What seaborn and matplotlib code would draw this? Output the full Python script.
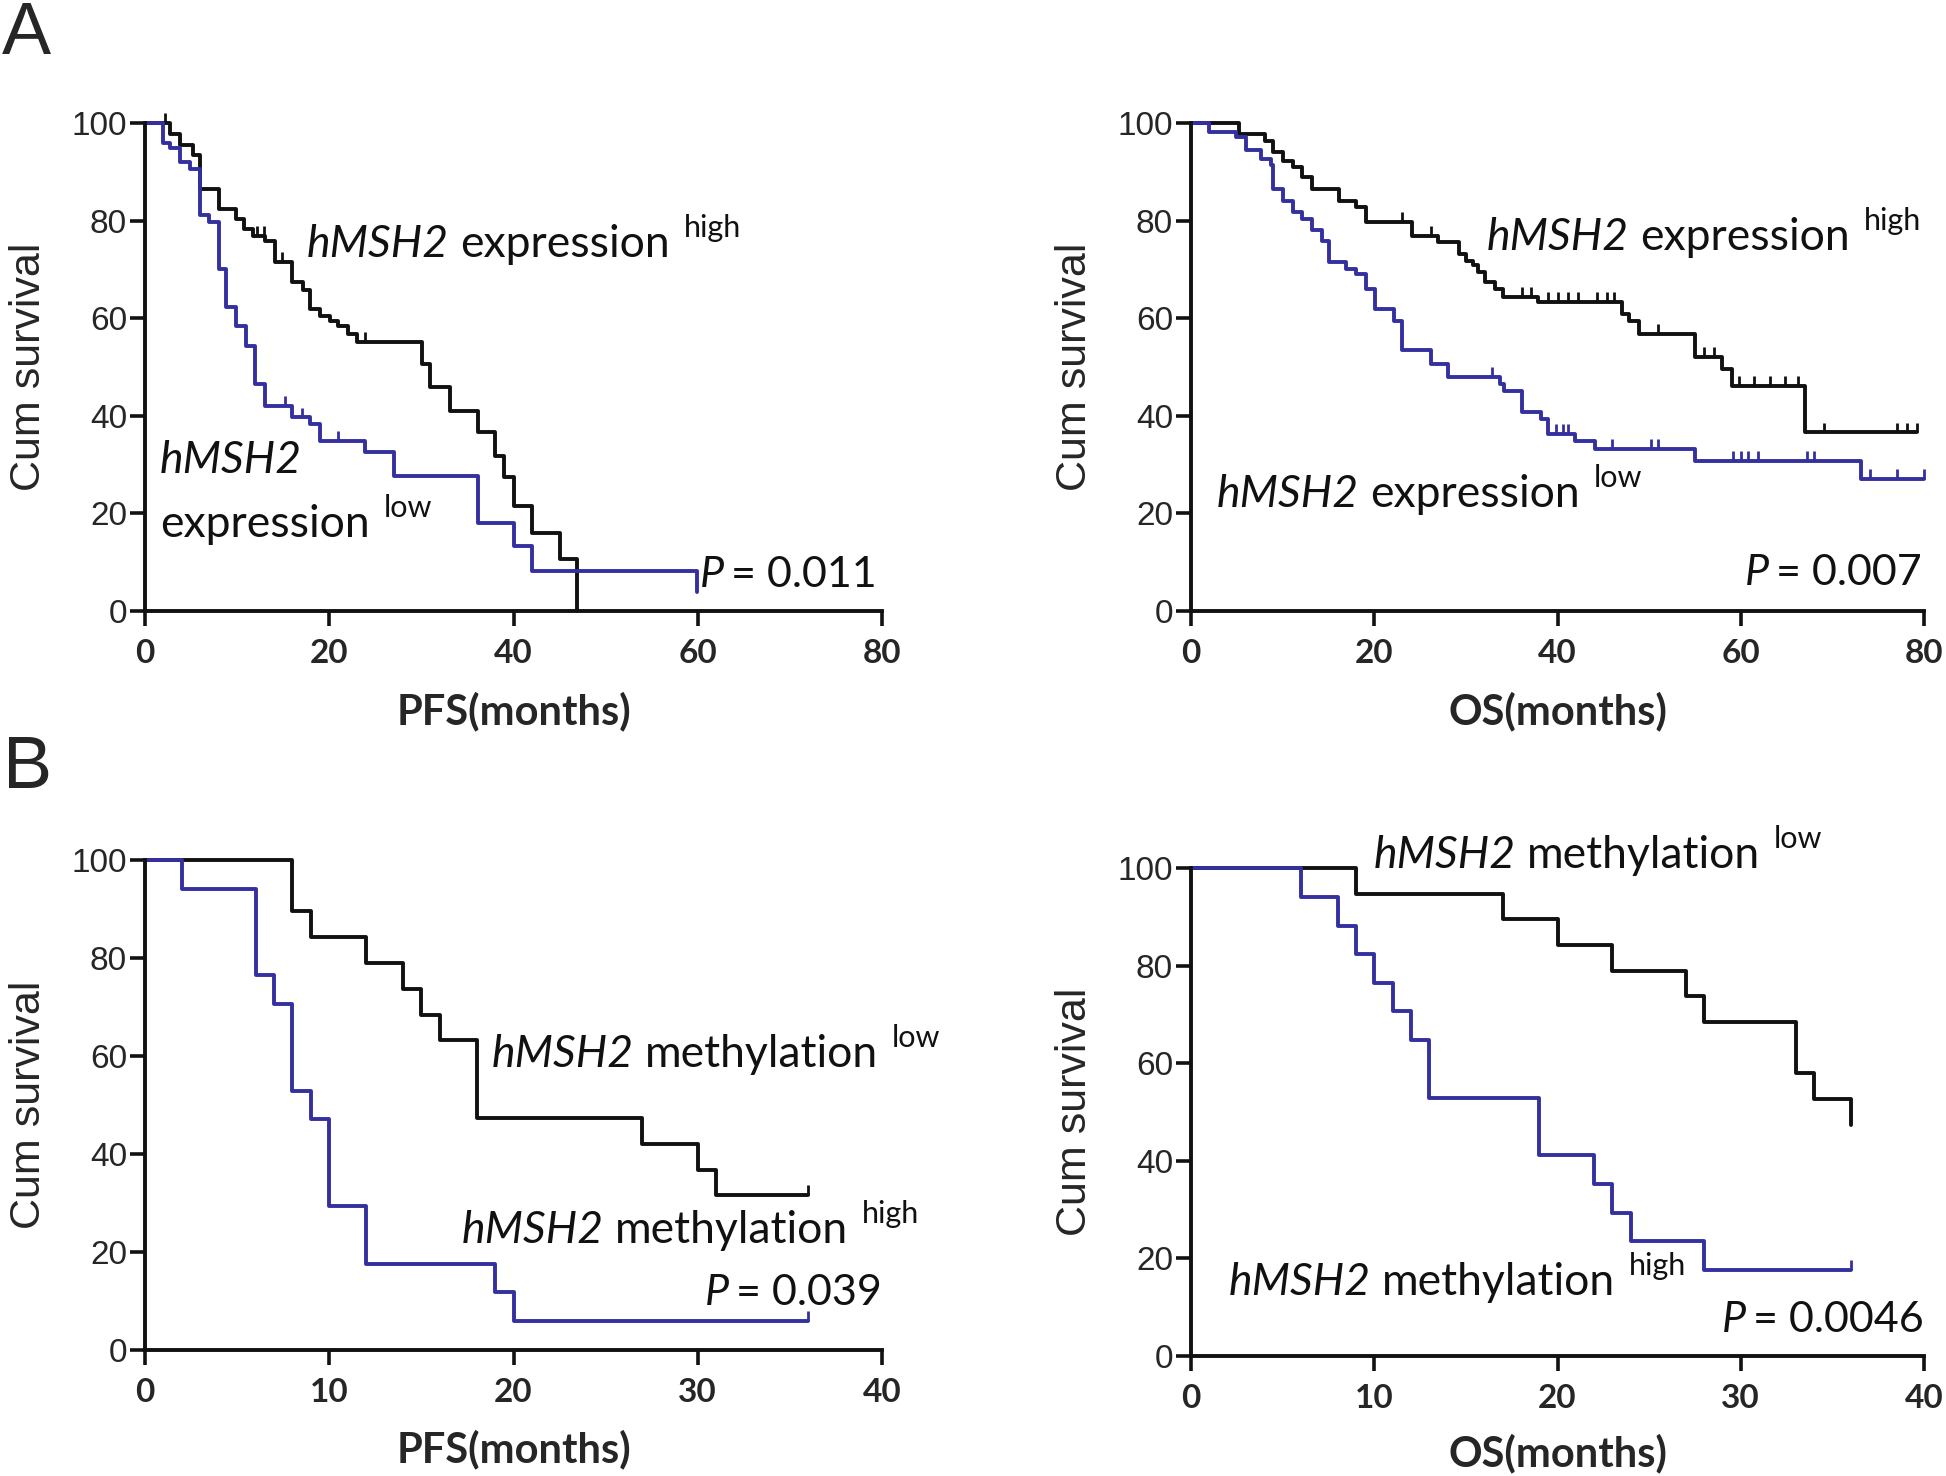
import numpy as np
import pandas as pd
import matplotlib
matplotlib.use("Agg")
import matplotlib.pyplot as plt
import seaborn as sns

# ---- data ----
# A: PFS by hMSH2 expression
pfs_exp_high_t = [0, 2.7, 3.8, 5.2, 6.0, 8.0, 9.9, 10.8, 11.7, 13.0, 14.1, 16.0, 17.1, 17.9, 19.0, 20.1,
                  20.9, 22.0, 23.0, 30.1, 30.9, 33.1, 36.1, 38.0, 39.0, 40.1, 42.0, 45.0, 46.9]
pfs_exp_high_s = [100, 97.8, 95.4, 93.4, 86.5, 82.4, 80.3, 78.3, 76.9, 75.9, 71.5, 67.4, 65.7, 61.9, 60.5, 59.5,
                  58.5, 56.8, 55.1, 50.6, 45.8, 41.0, 36.6, 31.8, 27.4, 21.5, 16.0, 10.6, 0]
pfs_exp_high_ct = [2.2, 12.2, 12.9, 14.9, 23.9]
pfs_exp_high_cs = [100, 76.9, 76.9, 71.5, 55.1]

pfs_exp_low_t = [0, 1.9, 2.7, 3.8, 4.9, 6.0, 7.0, 8.0, 8.8, 9.9, 11.0, 11.9, 13.0, 16.0, 17.9, 19.0,
                 23.9, 27.0, 36.1, 40.0, 42.0, 59.9]
pfs_exp_low_s = [100, 96.0, 94.9, 92.0, 90.6, 81.1, 79.7, 70.1, 62.2, 58.5, 54.4, 46.5, 42.1, 39.7, 38.3, 34.9,
                 32.5, 27.7, 18.1, 13.3, 8.2, 3.8]
pfs_exp_low_ct = [15.2, 17.0, 21.0]
pfs_exp_low_cs = [42.1, 39.7, 34.9]

# A: OS by hMSH2 expression
os_exp_high_t = [0, 5.2, 8.1, 8.9, 10.0, 11.1, 12.1, 13.2, 16.1, 18.0, 19.1, 24.1, 27.0, 29.2, 30.0, 30.8,
                 31.3, 32.1, 33.2, 34.0, 37.9, 47.0, 47.8, 48.9, 55.0, 57.9, 59.0, 67.0, 79.2]
os_exp_high_s = [100, 97.8, 96.4, 94.0, 92.3, 91.0, 88.9, 86.5, 84.1, 82.8, 79.7, 76.9, 75.6, 73.2, 71.8, 70.8,
                 69.4, 67.4, 66.0, 64.3, 63.3, 60.9, 59.5, 56.8, 52.0, 49.6, 46.2, 36.6, 36.6]
os_exp_high_ct = [23.0, 26.2, 36.1, 37.1, 39.0, 40.1, 41.1, 42.2, 44.3, 45.4, 46.2, 51.0, 56.0, 57.1,
                  59.8, 61.4, 63.2, 64.8, 66.2, 69.1, 77.1, 78.1, 79.2]
os_exp_high_cs = [79.7, 76.9, 64.3, 64.3, 63.3, 63.3, 63.3, 63.3, 63.3, 63.3, 63.3, 56.8, 52.0, 52.0,
                  46.2, 46.2, 46.2, 46.2, 46.2, 36.6, 36.6, 36.6, 36.6]

os_exp_low_t = [0, 2.0, 4.9, 6.0, 7.6, 8.7, 8.9, 10.0, 11.1, 12.1, 13.2, 14.3, 15.1, 16.9, 18.0, 19.1, 20.1,
                22.2, 23.0, 26.2, 28.1, 33.7, 34.2, 36.1, 38.2, 39.0, 41.9, 44.1, 55.0, 73.1, 80.0]
os_exp_low_s = [100, 98.2, 97.1, 94.4, 92.7, 91.3, 86.5, 84.1, 81.7, 80.4, 78.0, 75.9, 71.5, 70.1, 69.1, 66.0, 61.9,
                59.5, 53.4, 50.6, 47.9, 46.5, 45.1, 40.7, 39.3, 36.3, 34.9, 33.2, 30.8, 27.0, 27.0]
os_exp_low_ct = [32.9, 39.8, 40.6, 41.1, 45.9, 50.2, 51.0, 59.2, 60.0, 60.8, 61.9, 67.2, 68.0, 74.1, 77.1, 80.0]
os_exp_low_cs = [47.9, 36.3, 36.3, 36.3, 33.2, 33.2, 33.2, 30.8, 30.8, 30.8, 30.8, 30.8, 30.8, 27.0, 27.0, 27.0]

# B: PFS by hMSH2 methylation
pfs_met_low_t = [0, 8, 9, 12, 14, 15, 16, 18, 27, 30, 31, 36]
pfs_met_low_s = [100, 89.5, 84.2, 78.9, 73.7, 68.4, 63.2, 47.4, 42.1, 36.8, 31.6, 31.6]
pfs_met_low_ct = [36]
pfs_met_low_cs = [31.6]

pfs_met_high_t = [0, 2, 6, 7, 8, 9, 10, 12, 19, 20, 36]
pfs_met_high_s = [100, 94.1, 76.5, 70.6, 52.9, 47.1, 29.4, 17.6, 11.8, 5.9, 5.9]
pfs_met_high_ct = [36]
pfs_met_high_cs = [5.9]

# B: OS by hMSH2 methylation
os_met_low_t = [0, 9, 17, 20, 23, 27, 28, 33, 34, 36]
os_met_low_s = [100, 94.7, 89.5, 84.2, 78.9, 73.7, 68.4, 57.9, 52.6, 47.4]

os_met_high_t = [0, 6, 8, 9, 10, 11, 12, 13, 19, 22, 23, 24, 28, 36]
os_met_high_s = [100, 94.1, 88.2, 82.4, 76.5, 70.6, 64.7, 52.9, 41.2, 35.3, 29.4, 23.5, 17.6, 17.6]
os_met_high_ct = [36]
os_met_high_cs = [17.6]

p_values = ["0.011", "0.007", "0.039", "0.0046"]

# ---- styling ----
sns.set_style("ticks")
plt.rcParams['font.family'] = ['Lato', 'DejaVu Sans']
BLUE = "#3430a0"
BLACK = "#111111"
W, H = 1946, 1476
CAL = ['Lato', 'DejaVu Sans']
ARIAL = ['Liberation Sans', 'DejaVu Sans']

fig = plt.figure(figsize=(W / 100, H / 100), dpi=100)


def make_ax(x0, y0, x1, y1):
    return fig.add_axes([x0 / W, (H - y1) / H, (x1 - x0) / W, (y1 - y0) / H])


def km(ax, t, s, color, ct=None, cs=None):
    sns.lineplot(x=t, y=s, ax=ax, drawstyle='steps-post', estimator=None, sort=False,
                 color=color, linewidth=2.8, clip_on=False)
    if ct is not None:
        ax.vlines(ct, cs, np.array(cs) + 2.0, color=color, lw=2.0, clip_on=False)


def style_ax(ax, xmax, xstep, xlabel, label_y):
    ax.set_xlim(0, xmax)
    ax.set_ylim(0, 100)
    ax.set_xticks(np.arange(0, xmax + 1, xstep))
    ax.set_yticks(np.arange(0, 101, 20))
    sns.despine(ax=ax)
    for sp in ['left', 'bottom']:
        ax.spines[sp].set_linewidth(2.8)
        ax.spines[sp].set_color(BLACK)
    ax.tick_params(axis='both', length=11, width=2.6, color=BLACK, direction='out')
    ax.tick_params(axis='y', pad=2, labelsize=24)
    ax.tick_params(axis='x', pad=9, labelsize=24)
    for lbl in ax.get_yticklabels():
        lbl.set_fontfamily(ARIAL)
    for lbl in ax.get_xticklabels():
        lbl.set_fontfamily(CAL)
        lbl.set_fontweight('bold')
    ax.set_xlabel('')
    ax.set_ylabel('')
    bb = ax.get_position()
    fig.text((bb.x0 + bb.x1) / 2, 1 - label_y / H, xlabel, ha='center', va='baseline',
             fontsize=30, family=CAL, fontweight='bold')
    fig.text(bb.x0 - 116 / W, (bb.y0 + bb.y1) / 2, 'Cum survival', rotation=90,
             ha='center', va='center', fontsize=31, family=ARIAL)


renderer = fig.canvas.get_renderer()


def rich(x, y, parts):
    # parts: (text, italic, fontsize, raise_px, gap_after_px)
    for txt, ital, fs, up, gap in parts:
        t = fig.text(x / W, (H - y + up) / H, txt, ha='left', va='baseline', fontsize=fs,
                     family=CAL, style='italic' if ital else 'normal', color=BLACK)
        bb = t.get_window_extent(renderer)
        x = bb.x1 + gap


def label(x, y, gene_word, group, sup_raise=20):
    rich(x, y, [("hMSH2", True, 32, 0, 11), (gene_word, False, 32, 0, 14),
                (group, False, 22, sup_raise, 0)])


def pval(x, y, p):
    rich(x, y, [("P", True, 31, 0, 7), ("= " + p, False, 31, 0, 0)])


# ---- A left: PFS expression ----
ax1 = make_ax(145, 123, 882, 611)
km(ax1, pfs_exp_high_t, pfs_exp_high_s, BLACK, pfs_exp_high_ct, pfs_exp_high_cs)
km(ax1, pfs_exp_low_t, pfs_exp_low_s, BLUE, pfs_exp_low_ct, pfs_exp_low_cs)
style_ax(ax1, 80, 20, 'PFS(months)', 724)
label(307, 257, "expression", "high")
rich(160, 473, [("hMSH2", True, 32, 0, 0)])
rich(160, 537, [("expression", False, 32, 0, 14), ("low", False, 22, 20, 0)])
pval(700, 587, p_values[0])

# ---- A right: OS expression ----
ax2 = make_ax(1191, 123, 1924, 611)
km(ax2, os_exp_high_t, os_exp_high_s, BLACK, os_exp_high_ct, os_exp_high_cs)
km(ax2, os_exp_low_t, os_exp_low_s, BLUE, os_exp_low_ct, os_exp_low_cs)
style_ax(ax2, 80, 20, 'OS(months)', 724)
label(1487, 250, "expression", "high")
label(1217, 507, "expression", "low")
pval(1745, 585, p_values[1])

# ---- B left: PFS methylation ----
ax3 = make_ax(145, 860, 882, 1350)
km(ax3, pfs_met_low_t, pfs_met_low_s, BLACK, pfs_met_low_ct, pfs_met_low_cs)
km(ax3, pfs_met_high_t, pfs_met_high_s, BLUE, pfs_met_high_ct, pfs_met_high_cs)
style_ax(ax3, 40, 10, 'PFS(months)', 1462)
label(492, 1067, "methylation", "low")
label(462, 1243, "methylation", "high")
pval(705, 1305, p_values[2])

# ---- B right: OS methylation ----
ax4 = make_ax(1191, 868, 1924, 1356)
km(ax4, os_met_low_t, os_met_low_s, BLACK)
km(ax4, os_met_high_t, os_met_high_s, BLUE, os_met_high_ct, os_met_high_cs)
style_ax(ax4, 40, 10, 'OS(months)', 1466)
label(1374, 868, "methylation", "low")
label(1229, 1295, "methylation", "high")
pval(1722, 1332, p_values[3])

# panel letters
fig.text(2 / W, 1 - 54 / H, 'A', fontsize=53, family=ARIAL, va='baseline')
fig.text(3 / W, 1 - 788 / H, 'B', fontsize=53, family=ARIAL, va='baseline')

fig.savefig('out.png', dpi=100)
